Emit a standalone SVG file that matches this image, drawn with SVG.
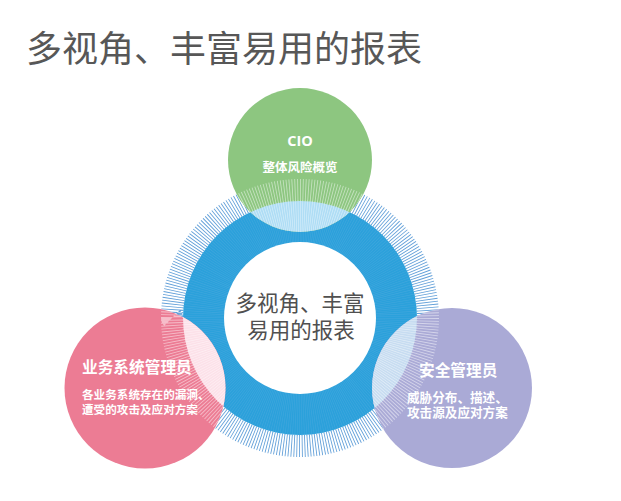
<svg xmlns="http://www.w3.org/2000/svg" width="621" height="501" viewBox="0 0 621 501">
<style>
.cjk{font-family:"Noto Sans CJK SC","Noto Sans",sans-serif}
.title{font-size:36px;fill:#575757}
.center{font-size:21.5px;fill:#505050;text-anchor:middle}
.wt{fill:#ffffff;font-weight:bold}
.ticks{fill:none;stroke-dasharray:0.32 0.68}
</style>
<defs>
<clipPath id="blueDisk"><circle cx="300" cy="318" r="117"/></clipPath>
<clipPath id="bubbles">
<circle cx="300" cy="160" r="72"/>
<circle cx="145" cy="388" r="80.5"/>
<circle cx="452" cy="388" r="80"/>
</clipPath>
</defs>
<rect width="621" height="501" fill="#ffffff"/>
<text class="cjk title" x="26" y="62">多视角、丰富易用的报表</text>

<g id="hub">
<circle cx="300" cy="318" r="117" fill="#2BA1DB"/>
<circle class="ticks" cx="300" cy="318" r="97" stroke-width="42" stroke="#4FAAE0" opacity="0.6" pathLength="300"/>
<circle class="ticks" cx="300" cy="318" r="128" stroke-width="22" stroke="#5F9ED8" pathLength="300"/>
<circle cx="300" cy="318" r="76" fill="#ffffff"/>
</g>

<g id="cio">
<circle cx="300" cy="160" r="72" fill="#8DC680"/>
</g>
<g id="biz">
<circle cx="145" cy="388" r="80.5" fill="#EC7C94"/>
</g>
<g id="sec">
<circle cx="452" cy="388" r="80" fill="#AAAAD6"/>
</g>

<g id="overlaps" clip-path="url(#blueDisk)">
<circle cx="300" cy="160" r="72" fill="#AEDDF5"/>
<circle cx="145" cy="388" r="80.5" fill="#FCE1E9"/>
<circle cx="452" cy="388" r="80" fill="#C7DCF1"/>
</g>
<g id="overlapTicks" clip-path="url(#bubbles)" opacity="0.5">
<circle class="ticks" cx="300" cy="318" r="97" stroke-width="42" stroke="#ffffff" pathLength="300"/>
<circle class="ticks" cx="300" cy="318" r="128" stroke-width="22" stroke="#ffffff" pathLength="300"/>
</g>

<g id="centerText" class="cjk">
<text class="center" x="300" y="311">多视角、丰富</text>
<text class="center" x="301" y="338">易用的报表</text>
</g>
<g id="cioText" class="cjk">
<text class="wt" x="300" y="146" font-size="14.5" text-anchor="middle" font-family="'Open Sans','Noto Sans',sans-serif">CIO</text>
<text class="wt" x="300" y="172" font-size="12.5" text-anchor="middle">整体风险概览</text>
</g>
<g id="bizText" class="cjk">
<text class="wt" x="82" y="373" font-size="15.7">业务系统管理员</text>
<text class="wt" x="82" y="399" font-size="11.6">各业务系统存在的漏洞、</text>
<text class="wt" x="82" y="414" font-size="11.6">遭受的攻击及应对方案</text>
</g>
<g id="secText" class="cjk">
<text class="wt" x="419" y="376" font-size="15.7">安全管理员</text>
<text class="wt" x="407" y="401.5" font-size="12.6">威胁分布、描述、</text>
<text class="wt" x="407" y="417" font-size="12.6">攻击源及应对方案</text>
</g>
</svg>
